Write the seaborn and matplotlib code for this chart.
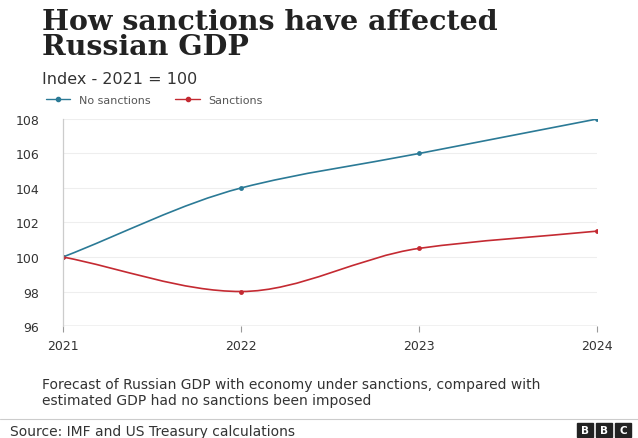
import numpy as np
import pandas as pd
import seaborn as sns
import matplotlib.pyplot as plt
from matplotlib.path import Path
from matplotlib.patches import PathPatch, Rectangle
from matplotlib.lines import Line2D

# data
years = [2021, 2022, 2023, 2024]
no_sanctions = [100, 104, 106, 108]
sanctions = [100, 98, 100.5, 101.5]
series_names = ["No sanctions", "Sanctions"]
colors = ["#2b7a96", "#c42a32"]
y_ticks = [96, 98, 100, 102, 104, 106, 108]

df = pd.DataFrame({
    "year": years * 2,
    "value": no_sanctions + sanctions,
    "series": [series_names[0]] * 4 + [series_names[1]] * 4,
})

sns.set_style("white")
plt.rcParams["font.family"] = ["DejaVu Sans"]

fig = plt.figure(figsize=(6.38, 4.39), dpi=100)
ax = fig.add_axes([0.0987, 0.2551, 0.8373, 0.4716])

# markers through seaborn
sns.lineplot(data=df, x="year", y="value", hue="series", palette=colors,
             marker="o", markersize=3.5, markeredgewidth=0, ax=ax, legend=False)
for ln in ax.lines:
    ln.set_linestyle("none")


# smooth monotone curve between points (just the drawing style)
def smooth_path(xs, ys):
    xs = np.asarray(xs, float)
    ys = np.asarray(ys, float)
    d = np.diff(ys) / np.diff(xs)
    m = np.zeros(len(xs))
    m[0], m[-1] = d[0], d[-1]
    for i in range(1, len(xs) - 1):
        if d[i - 1] * d[i] <= 0:
            m[i] = 0
        else:
            m[i] = 2 / (1 / d[i - 1] + 1 / d[i])
    verts = [(xs[0], ys[0])]
    codes = [Path.MOVETO]
    for i in range(len(xs) - 1):
        h = xs[i + 1] - xs[i]
        verts += [(xs[i] + h / 3, ys[i] + m[i] * h / 3),
                  (xs[i + 1] - h / 3, ys[i + 1] - m[i + 1] * h / 3),
                  (xs[i + 1], ys[i + 1])]
        codes += [Path.CURVE4] * 3
    return Path(verts, codes)


for vals, c in zip([no_sanctions, sanctions], colors):
    ax.add_patch(PathPatch(smooth_path(years, vals), fill=False, edgecolor=c, lw=1.2, zorder=2))

ax.set_xlim(2021, 2024)
ax.set_ylim(96, 108)
ax.set_yticks(y_ticks)
ax.set_xticks(years)
ax.set_xticklabels([str(y) for y in years])
ax.set_xlabel("")
ax.set_ylabel("")
ax.grid(axis="y", color="#eeeeee", lw=0.8)
ax.axhline(96, color="#999999", lw=0.9, zorder=1)
for s in ["top", "right", "bottom"]:
    ax.spines[s].set_visible(False)
ax.spines["left"].set_color("#cccccc")
ax.spines["left"].set_linewidth(0.9)
ax.tick_params(axis="y", length=0, pad=17, labelsize=9, labelcolor="#333333")
ax.tick_params(axis="x", length=4, width=0.8, color="#999999", pad=5, labelsize=9, labelcolor="#333333", bottom=True)

# titles
fig.text(42 / 638, 1 - 35 / 439, "How sanctions have affected\nRussian GDP", family="DejaVu Serif",
         weight="bold", fontsize=20.5, va="center", ha="left", linespacing=0.9, color="#222222")
fig.text(42 / 638, 1 - 80 / 439, "Index - 2021 = 100", fontsize=11.5, va="center", color="#333333")

handles = [Line2D([], [], color=c, marker="o", markersize=3, lw=1) for c in colors]
fig.legend(handles, series_names, loc="center left", bbox_to_anchor=(36 / 638, 1 - 101 / 439),
           ncol=2, frameon=False, fontsize=8, handlelength=2.2, handletextpad=0.8, columnspacing=2.2,
           labelcolor="#555555")

# footer
fig.text(42 / 638, 1 - 393 / 439,
         "Forecast of Russian GDP with economy under sanctions, compared with\nestimated GDP had no sanctions been imposed",
         fontsize=10, va="center", color="#333333", linespacing=1.25)
fig.add_artist(Line2D([0, 1], [1 - 420 / 439] * 2, color="#cccccc", lw=0.8))
fig.text(10 / 638, 1 - 432 / 439, "Source: IMF and US Treasury calculations", fontsize=10, va="center", color="#333333")
for i, letter in enumerate("BBC"):
    x0 = (577 + i * 19) / 638
    fig.add_artist(Rectangle((x0, 1 - 438 / 439), 16 / 638, 14 / 439, color="#222222"))
    fig.text(x0 + 8 / 638, 1 - 431 / 439, letter, color="white", fontsize=7.5, weight="bold",
             ha="center", va="center")

fig.savefig("out.png", dpi=100)
